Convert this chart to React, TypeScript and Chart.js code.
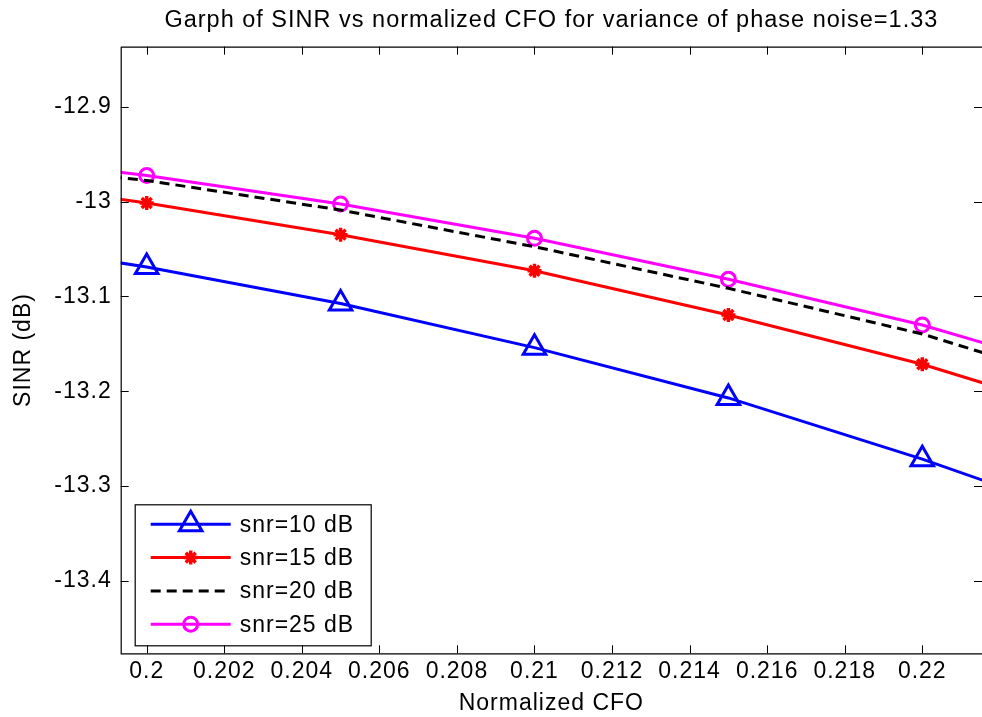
import React, { useEffect, useRef } from 'react';
import { Chart, registerables } from 'chart.js';
import { drawPoint } from 'chart.js/helpers';

Chart.register(...registerables);

// Normalized CFO values (points outside the visible range carry the lines to the axes edges)
const cfo = [0.195, 0.2, 0.205, 0.21, 0.215, 0.22, 0.225];
const snr10 = [-13.0372, -13.0689, -13.1074, -13.154, -13.2071, -13.2717, -13.3431];
const snr15 = [-12.9718, -13.0014, -13.0348, -13.0728, -13.1195, -13.1715, -13.2348];
const snr20 = [-12.9565, -12.9776, -13.0088, -13.0475, -13.0914, -13.1396, -13.2028];
const snr25 = [-12.947, -12.9724, -13.0024, -13.0386, -13.0819, -13.1301, -13.1902];
const seriesLabels = ['snr=10 dB', 'snr=15 dB', 'snr=20 dB', 'snr=25 dB'];
const xTicks = [0.2, 0.202, 0.204, 0.206, 0.208, 0.21, 0.212, 0.214, 0.216, 0.218, 0.22];
const yTicks = [-13.4, -13.3, -13.2, -13.1, -13, -12.9];
const xMin = 0.19933;
const xMax = 0.22154;
const yMin = -13.4766;
const yMax = -12.8364;
const titleText = 'Garph of SINR vs normalized CFO for variance of phase noise=1.33';
const xTitle = 'Normalized CFO';
const yTitle = 'SINR (dB)';

const FAMILY = '"Liberation Sans", Arial, Helvetica, sans-serif';

const toPts = (ys: number[]) => cfo.map((x, i) => ({ x, y: ys[i] }));

const spacingPlugin = {
  id: 'spacing',
  beforeUpdate(chart: any) {
    chart.ctx.letterSpacing = '1px';
  },
  beforeDraw(chart: any) {
    chart.ctx.letterSpacing = '1px';
  },
};

const framePlugin = {
  id: 'frame',
  afterDatasetsDraw(chart: any) {
    const { ctx, chartArea } = chart;
    const { left, right, top, bottom } = chartArea;
    const xs = chart.scales.x;
    const ys = chart.scales.y;
    ctx.save();
    ctx.strokeStyle = '#000';
    ctx.lineWidth = 1.2;
    ctx.beginPath();
    ctx.moveTo(left + 0.5, top + 0.5);
    ctx.lineTo(right + 2, top + 0.5);
    ctx.moveTo(left + 0.5, top);
    ctx.lineTo(left + 0.5, bottom + 0.5);
    ctx.lineTo(right + 2, bottom + 0.5);
    ctx.stroke();
    ctx.lineWidth = 1;
    ctx.beginPath();
    const tl = 8;
    xTicks.forEach((v) => {
      const px = Math.round(xs.getPixelForValue(v)) + 0.5;
      ctx.moveTo(px, bottom);
      ctx.lineTo(px, bottom - tl);
      ctx.moveTo(px, top);
      ctx.lineTo(px, top + tl);
    });
    yTicks.forEach((v) => {
      const py = Math.round(ys.getPixelForValue(v)) + 0.5;
      ctx.moveTo(left, py);
      ctx.lineTo(left + tl, py);
      ctx.moveTo(right, py);
      ctx.lineTo(right - tl, py);
    });
    ctx.stroke();
    ctx.restore();
  },
};

const legendPlugin = {
  id: 'matlabLegend',
  afterDraw(chart: any) {
    const { ctx, chartArea } = chart;
    const bx = chartArea.left + 14;
    const bw = 236;
    const bh = 141;
    const by = chartArea.bottom - 8 - bh;
    ctx.save();
    ctx.fillStyle = '#fff';
    ctx.fillRect(bx, by, bw, bh);
    ctx.strokeStyle = '#000';
    ctx.lineWidth = 1.2;
    ctx.strokeRect(bx + 0.5, by + 0.5, bw, bh);
    const rowH = 33.3;
    chart.data.datasets.forEach((ds: any, i: number) => {
      const cy = by + 20 + i * rowH;
      const x0 = bx + 16;
      const x1 = bx + 96;
      ctx.save();
      ctx.strokeStyle = ds.borderColor;
      ctx.lineWidth = ds.borderWidth;
      ctx.setLineDash(ds.borderDash || []);
      ctx.beginPath();
      ctx.moveTo(x0, cy);
      ctx.lineTo(x1, cy);
      ctx.stroke();
      ctx.setLineDash([]);
      if (ds.pointStyle) {
        ctx.strokeStyle = ds.pointBorderColor;
        ctx.fillStyle = ds.pointBackgroundColor;
        ctx.lineWidth = ds.pointBorderWidth;
        drawPoint(ctx, {
          pointStyle: ds.pointStyle,
          radius: ds.pointRadius,
          rotation: 0,
          borderWidth: ds.pointBorderWidth,
        } as any, (x0 + x1) / 2, cy);
      }
      ctx.restore();
      ctx.fillStyle = '#000';
      ctx.font = `23px ${FAMILY}`;
      ctx.textAlign = 'left';
      ctx.textBaseline = 'middle';
      ctx.fillText(ds.label, bx + 105, cy + 1);
    });
    ctx.restore();
  },
};

export default function App() {
  const ref = useRef<HTMLCanvasElement | null>(null);
  useEffect(() => {
    if (!ref.current) return;
    const tickFont = { family: FAMILY, size: 23 };
    const chart = new Chart(ref.current, {
      type: 'line',
      data: {
        datasets: [
          {
            label: seriesLabels[0],
            data: toPts(snr10),
            borderColor: '#0000ff',
            borderWidth: 3,
            pointStyle: 'triangle',
            pointRadius: 13,
            pointBorderWidth: 3,
            pointBorderColor: '#0000ff',
            pointBackgroundColor: 'rgba(0,0,0,0)',
            clip: 0,
          },
          {
            label: seriesLabels[1],
            data: toPts(snr15),
            borderColor: '#ff0000',
            borderWidth: 3,
            pointStyle: 'star',
            pointRadius: 7,
            pointBorderWidth: 3.5,
            pointBorderColor: '#ff0000',
            pointBackgroundColor: '#ff0000',
            clip: 0,
          },
          {
            label: seriesLabels[2],
            data: toPts(snr20),
            borderColor: '#000000',
            borderWidth: 3,
            borderDash: [10, 6],
            pointStyle: false,
            pointRadius: 0,
            pointBorderWidth: 0,
            clip: 0,
          },
          {
            label: seriesLabels[3],
            data: toPts(snr25),
            borderColor: '#ff00ff',
            borderWidth: 3,
            pointStyle: 'circle',
            pointRadius: 7,
            pointBorderWidth: 3,
            pointBorderColor: '#ff00ff',
            pointBackgroundColor: 'rgba(0,0,0,0)',
            clip: 0,
          },
        ] as any,
      },
      options: {
        animation: false,
        responsive: false,
        events: [],
        layout: { autoPadding: false, padding: { left: 0, right: 0, top: 0, bottom: 0 } },
        plugins: {
          legend: { display: false },
          tooltip: { enabled: false },
          title: {
            display: true,
            text: titleText,
            color: '#000',
            fullSize: false,
            font: { family: FAMILY, size: 23.5, weight: 'normal' },
            padding: { top: 6, bottom: 12.5 },
          },
        },
        scales: {
          x: {
            type: 'linear',
            min: xMin,
            max: xMax,
            grid: { display: false, drawTicks: false },
            border: { display: false },
            afterBuildTicks: (s: any) => {
              s.ticks = xTicks.map((v) => ({ value: v }));
            },
            afterFit: (s: any) => {
              s.height = 63.7;
              s.paddingLeft = 0;
              s.paddingRight = 0;
            },
            ticks: {
              color: '#000',
              font: tickFont,
              padding: 5,
              maxRotation: 0,
              autoSkip: false,
              callback: (v: any) => String(v),
            },
            title: {
              display: true,
              text: xTitle,
              color: '#000',
              font: tickFont,
              padding: { top: 0, bottom: 0 },
            },
          },
          y: {
            type: 'linear',
            min: yMin,
            max: yMax,
            grid: { display: false, drawTicks: false },
            border: { display: false },
            afterBuildTicks: (s: any) => {
              s.ticks = yTicks.map((v) => ({ value: v }));
            },
            afterFit: (s: any) => {
              s.width = 120.7;
              s.paddingTop = 0;
              s.paddingBottom = 0;
            },
            ticks: {
              color: '#000',
              font: tickFont,
              padding: 9,
              autoSkip: false,
              callback: (v: any) => String(v),
            },
            title: {
              display: true,
              text: yTitle,
              color: '#000',
              font: tickFont,
              padding: { top: 10, bottom: 0 },
            },
          },
        },
      } as any,
      plugins: [spacingPlugin, framePlugin, legendPlugin],
    });
    return () => chart.destroy();
  }, []);
  return (
    <div style={{ position: 'fixed', left: 0, top: 0, width: 982, height: 717, background: '#fff' }}>
      <canvas ref={ref} width={982} height={717} style={{ display: 'block' }} />
    </div>
  );
}
